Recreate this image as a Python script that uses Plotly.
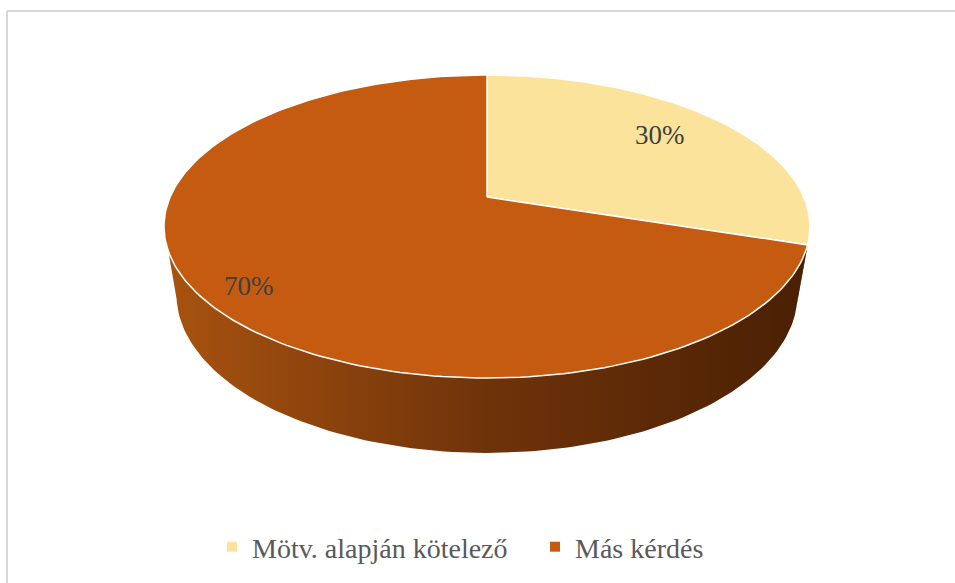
import numpy as np
import plotly.graph_objects as go

# ---- data ----
categories = ["Mötv. alapján kötelező", "Más kérdés"]
values = [30, 70]
pct_labels = ["30%", "70%"]

# ---- style ----
top_colors = ["#FBE39B", "#C55A11"]
side_scales = [
    [[0, "#8C7638"], [1, "#5E4E22"]],
    [[0, "#A9530F"], [0.5, "#6F330A"], [1, "#4A2003"]],
]
label_radius = [0.73, 0.84]
label_yshift = [4, -9]

W, H = 955, 583
# perspective projection of the pie disc (pixel space)
CX, AY = 487, 197
B, C, D = 107.4, -0.1947, 316.8
G, E = 0.0386, 77.8


def proj(theta_deg, r=1.0, bottom=False):
    t = np.radians(theta_deg)
    u = r * np.sin(t)
    v = -r * np.cos(t)
    den = 1 + C * v + (G if bottom else 0)
    x = CX + D * u / den
    y = (AY + B * v + (E if bottom else 0)) / den
    return x, y


total = sum(values)
bounds = np.concatenate([[0], np.cumsum(values) / total * 360])

th_r = np.degrees(np.arccos(C / 1.0))  # silhouette angle on right
th_l = 360 - th_r

fig = go.Figure()

# side walls
for i in range(len(values)):
    s, e = bounds[i], bounds[i + 1]
    lo, hi = max(s, th_r), min(e, th_l)
    if hi <= lo:
        continue
    ang = np.linspace(lo, hi, 120)
    xt, yt = proj(ang)
    xb, yb = proj(ang[::-1], bottom=True)
    fig.add_trace(go.Scatter(
        x=np.concatenate([xt, xb, xt[:1]]), y=np.concatenate([yt, yb, yt[:1]]),
        mode="lines", fill="toself", line=dict(width=0, color="rgba(0,0,0,0)"),
        fillgradient=dict(type="horizontal", colorscale=side_scales[i]),
        showlegend=False, hoverinfo="skip"))

# top faces
for i in range(len(values)):
    s, e = bounds[i], bounds[i + 1]
    ang = np.linspace(s, e, 200)
    xa, ya = proj(ang)
    x0, y0 = proj(0, r=0)
    fig.add_trace(go.Scatter(
        x=np.concatenate([[x0], xa, [x0]]), y=np.concatenate([[y0], ya, [y0]]),
        mode="lines", fill="toself", fillcolor=top_colors[i],
        line=dict(color="white", width=1.5),
        name=categories[i], showlegend=False,
        hovertemplate=f"{categories[i]}: {pct_labels[i]}<extra></extra>"))

# legend entries
for i in range(len(values)):
    fig.add_trace(go.Scatter(
        x=[None], y=[None], mode="markers", name=categories[i],
        marker=dict(symbol="square", size=10, color=top_colors[i])))

# percentage labels
for i in range(len(values)):
    mid = (bounds[i] + bounds[i + 1]) / 2
    lx, ly = proj(mid, r=label_radius[i])
    fig.add_annotation(x=lx, y=ly, text=pct_labels[i], showarrow=False,
                       yshift=label_yshift[i],
                       font=dict(family="Liberation Serif, Times New Roman, serif",
                                 size=27, color="#404040"))

# frame lines
fig.add_shape(type="line", x0=7, x1=7, y0=11, y1=H, line=dict(color="#D9D9D9", width=2))
fig.add_shape(type="line", x0=7, x1=W, y0=11, y1=11, line=dict(color="#D9D9D9", width=2))

fig.update_layout(
    width=W, height=H, margin=dict(l=0, r=0, t=0, b=0),
    paper_bgcolor="white", plot_bgcolor="white",
    xaxis=dict(range=[0, W], visible=False, fixedrange=True),
    yaxis=dict(range=[H, 0], visible=False, fixedrange=True),
    legend=dict(orientation="h", x=212 / W, xanchor="left", y=(H - 547) / H, yanchor="middle",
                entrywidth=278, entrywidthmode="pixels",
                font=dict(family="Liberation Serif, Times New Roman, serif", size=28, color="#595959"),
                bgcolor="rgba(0,0,0,0)"),
    showlegend=True,
)

fig.write_html("out.html", config={"displayModeBar": False},
               post_script="document.body.style.margin='0';document.body.style.overflow='hidden';")
